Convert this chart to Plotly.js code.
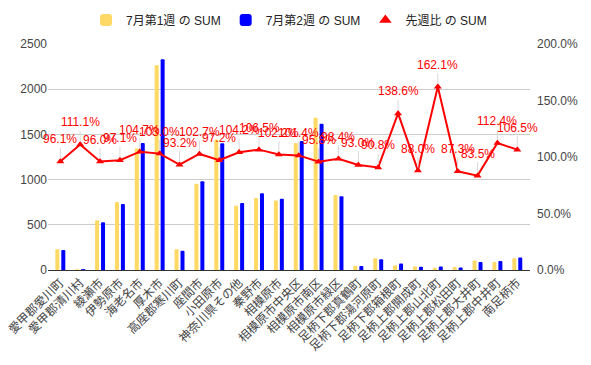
<!DOCTYPE html>
<html>
<head>
<meta charset="utf-8">
<script src="https://cdn.plot.ly/plotly-3.0.1.min.js"></script>
<style>html,body{margin:0;padding:0;background:#fff;}#chart{width:591px;height:365px;}</style>
</head>
<body>
<div id="chart"></div>
<script>
const categories = ["愛甲郡愛川町","愛甲郡清川村","綾瀬市","伊勢原市","海老名市","厚木市","高座郡寒川町","座間市","小田原市","神奈川県その他","秦野市","相模原市","相模原市中央区","相模原市南区","相模原市緑区","足柄下郡真鶴町","足柄下郡湯河原町","足柄下郡箱根町","足柄上郡開成町","足柄上郡山北町","足柄上郡松田町","足柄上郡大井町","足柄上郡中井町","南足柄市"];
const week1 = [229, 9, 551, 751, 1343, 2264, 229, 955, 1443, 710, 796, 770, 1406, 1683, 829, 46, 130, 52, 40, 25, 33, 105, 89, 130];
const week2 = [220, 10, 529, 729, 1406, 2332, 213, 981, 1403, 740, 848, 788, 1426, 1617, 816, 43, 118, 72, 35, 40, 29, 88, 100, 138];
const ratioPct = [96.1, 111.1, 96.0, 97.1, 104.7, 103.0, 93.2, 102.7, 97.2, 104.2, 106.5, 102.2, 101.4, 95.8, 98.4, 93.0, 90.8, 138.6, 88.0, 162.1, 87.3, 83.5, 112.4, 106.5];
const seriesNames = ["7月第1週 の SUM", "7月第2週 の SUM", "先週比 の SUM"];
const y1Ticks = [0, 500, 1000, 1500, 2000, 2500];
const y2Ticks = [0, 50, 100, 150, 200];
const y2TickLabels = ["0.0%", "50.0%", "100.0%", "150.0%", "200.0%"];

const FONT = "Arial, 'Liberation Sans', 'Noto Sans CJK JP', sans-serif";
const RED = "#ff0000";

const traces = [
  {type: "bar", name: seriesNames[0], x: categories, y: week1, marker: {color: "#ffd966", cornerradius: 1.5}, yaxis: "y"},
  {type: "bar", name: seriesNames[1], x: categories, y: week2, marker: {color: "#0000ff", cornerradius: 1.5}, yaxis: "y"},
  {type: "scatter", mode: "lines+markers", name: seriesNames[2], x: categories, y: ratioPct, yaxis: "y2",
   line: {color: RED, width: 2}, marker: {symbol: "triangle-up", size: 7, color: RED}, showlegend: false},
  {type: "scatter", mode: "markers", name: seriesNames[2], x: [categories[0]], y: [null], yaxis: "y2",
   marker: {symbol: "triangle-up", size: 11, color: RED}, showlegend: true, hoverinfo: "skip"}
];

const annotations = categories.map((c, i) => ({
  x: c, y: ratioPct[i], xref: "x", yref: "y2",
  text: ratioPct[i].toFixed(1) + "%",
  showarrow: true, arrowhead: 0, arrowwidth: 1, arrowcolor: "#d9d9d9",
  ax: 0, ay: -22, standoff: 3,
  font: {family: FONT, size: 12, color: RED}
}));

const layout = {
  width: 591, height: 365,
  margin: {l: 48, r: 61, t: 44, b: 95, pad: 0},
  paper_bgcolor: "#fff", plot_bgcolor: "#fff",
  font: {family: FONT, size: 12, color: "#444"},
  barmode: "group", bargap: 0.4, bargroupgap: 0.33,
  showlegend: true,
  legend: {orientation: "h", x: 0.5, xanchor: "center", y: 0.945, yanchor: "middle", yref: "container",
           font: {family: FONT, size: 12, color: "#222"}, itemwidth: 30, traceorder: "normal"},
  xaxis: {type: "category", range: [-0.62, 23.64], tickangle: -45, showgrid: false, zeroline: false,
          showline: true, linecolor: "#333", linewidth: 1, ticks: "",
          tickfont: {family: FONT, size: 12, color: "#444"}},
  yaxis: {range: [0, 2500], tickvals: y1Ticks, gridcolor: "#cccccc", zeroline: false,
          showline: false, ticks: "", tickfont: {family: FONT, size: 12, color: "#444"}},
  yaxis2: {range: [0, 200], overlaying: "y", side: "right", tickmode: "array", tickvals: y2Ticks, ticktext: y2TickLabels,
           showgrid: false, zeroline: false, showline: false, ticks: "", ticklabelstandoff: 6,
           tickfont: {family: FONT, size: 12, color: "#444"}},
  annotations: annotations
};
Plotly.newPlot("chart", traces, layout, {displayModeBar: false, staticPlot: true});
</script>
</body>
</html>
